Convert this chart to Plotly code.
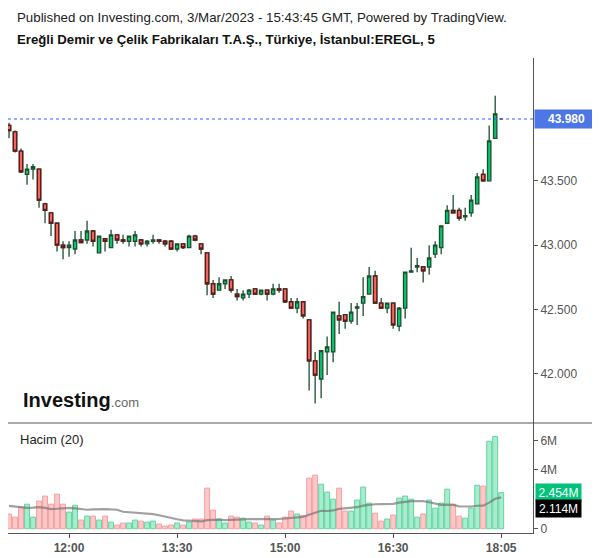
import plotly.graph_objects as go
import pandas as pd

# ---- data (5-minute bars, EREGL) ----
open_ = [43.93, 43.88, 43.73, 43.55, 43.59, 43.59, 43.32, 43.25, 43.17, 43.00,
         42.98, 42.97, 43.04, 43.04, 43.11, 42.94, 43.05, 42.98, 43.08, 43.04,
         43.03, 43.03, 43.04, 43.01, 43.03, 43.04, 43.03, 43.03, 42.97, 43.01,
         42.98, 43.07, 43.01, 42.94, 42.70, 42.65, 42.70, 42.73, 42.62, 42.59,
         42.62, 42.66, 42.62, 42.65, 42.62, 42.66, 42.66, 42.56, 42.51, 42.56,
         42.42, 42.10, 41.96, 42.17, 42.17, 42.45, 42.46, 42.41, 42.51, 42.55,
         42.62, 42.76, 42.55, 42.51, 42.55, 42.37, 42.51, 42.79, 42.83, 42.83,
         42.83, 42.93, 42.98, 43.17, 43.27, 43.27, 43.22, 43.25, 43.32, 43.55,
         43.50, 43.83, 43.98]
high = [43.95, 43.89, 43.75, 43.63, 43.63, 43.59, 43.33, 43.25, 43.17, 43.03,
        43.03, 43.11, 43.11, 43.19, 43.11, 43.07, 43.05, 43.12, 43.08, 43.08,
        43.07, 43.11, 43.04, 43.04, 43.08, 43.04, 43.04, 43.04, 43.01, 43.01,
        43.08, 43.08, 43.01, 42.94, 42.73, 42.75, 42.73, 42.76, 42.66, 42.65,
        42.66, 42.66, 42.65, 42.65, 42.70, 42.70, 42.66, 42.59, 42.59, 42.56,
        42.42, 42.17, 42.18, 42.29, 42.48, 42.56, 42.46, 42.55, 42.55, 42.75,
        42.83, 42.80, 42.59, 42.55, 42.55, 42.52, 42.79, 42.98, 42.90, 42.83,
        43.00, 43.03, 43.15, 43.31, 43.39, 43.29, 43.29, 43.39, 43.56, 43.59,
        43.93, 44.16, 43.98]
low = [43.83, 43.72, 43.56, 43.47, 43.51, 43.29, 43.17, 43.07, 42.95, 42.89,
       42.91, 42.93, 43.02, 43.01, 42.99, 42.94, 42.95, 42.98, 43.01, 43.01,
       42.99, 42.99, 42.99, 42.99, 43.01, 43.01, 42.99, 42.97, 42.95, 42.97,
       42.98, 43.03, 42.93, 42.61, 42.59, 42.65, 42.66, 42.63, 42.57, 42.57,
       42.59, 42.62, 42.61, 42.57, 42.61, 42.63, 42.55, 42.51, 42.47, 42.43,
       41.87, 41.77, 41.81, 41.99, 42.09, 42.31, 42.35, 42.39, 42.38, 42.45,
       42.62, 42.55, 42.51, 42.47, 42.35, 42.33, 42.43, 42.79, 42.79, 42.71,
       42.77, 42.90, 42.93, 43.17, 43.25, 43.19, 43.19, 43.22, 43.32, 43.50,
       43.50, 43.83, 43.98]
close = [43.89, 43.73, 43.57, 43.59, 43.61, 43.35, 43.27, 43.17, 43.00, 42.98,
         43.00, 43.04, 43.02, 43.11, 43.03, 43.07, 43.03, 43.08, 43.04, 43.03,
         43.07, 43.08, 43.01, 43.03, 43.04, 43.03, 43.01, 42.97, 43.01, 42.98,
         43.07, 43.04, 42.97, 42.70, 42.62, 42.70, 42.73, 42.65, 42.60, 42.62,
         42.65, 42.62, 42.65, 42.62, 42.66, 42.65, 42.56, 42.51, 42.56, 42.45,
         42.10, 41.99, 42.18, 42.21, 42.48, 42.42, 42.41, 42.48, 42.52, 42.60,
         42.76, 42.55, 42.51, 42.55, 42.38, 42.51, 42.79, 42.80, 42.84, 42.80,
         42.90, 43.00, 43.15, 43.27, 43.25, 43.21, 43.23, 43.35, 43.53, 43.50,
         43.81, 44.02, 43.98]
volume_m = [1.00, 0.79, 1.47, 1.67, 0.79, 1.88, 2.22, 1.67, 2.35, 1.67,
            1.13, 1.60, 0.59, 0.86, 0.86, 0.59, 0.86, 0.45, 0.25, 0.39,
            0.39, 0.59, 0.52, 0.45, 0.52, 0.32, 0.18, 0.25, 0.39, 0.25,
            0.45, 0.66, 0.66, 2.76, 1.27, 0.66, 0.39, 0.86, 0.79, 0.72,
            0.45, 0.39, 0.25, 0.86, 0.59, 0.39, 0.79, 1.20, 1.00, 0.90,
            3.44, 3.64, 3.03, 2.49, 2.01, 2.76, 1.20, 1.20, 1.95, 2.83,
            1.74, 1.06, 0.52, 0.66, 0.93, 2.08, 2.22, 2.01, 0.79, 1.00,
            1.95, 1.40, 1.74, 2.69, 1.67, 0.86, 0.72, 1.40, 2.96, 2.90,
            5.95, 6.28, 2.454]
# 20-bar volume average for the first bars (its window starts before the visible range)
ma_head_m = [1.56, 1.52, 1.47, 1.42, 1.44, 1.47, 1.42, 1.34, 1.36, 1.40,
             1.42, 1.38, 1.33, 1.29, 1.31, 1.34, 1.34, 1.31, 1.29]
tick_idx = [10, 28, 46, 64, 82]
tick_text = ["12:00", "13:30", "15:00", "16:30", "18:05"]
last_price = 43.98
vol_label = "2.454M"
ma_label = "2.114M"

n = len(close)
xs = list(range(n))
volume = [v * 1e6 for v in volume_m]
ma_tail = pd.Series(volume).rolling(20).mean().tolist()[len(ma_head_m):]
ma = [v * 1e6 for v in ma_head_m] + ma_tail

up = [c >= o for o, c in zip(open_, close)]
red_idx = [i for i in xs if not up[i]]

GREEN = "#08c46d"
RED = "#f6645c"
DKGREEN = "#1b4f30"
DKRED = "#5c1a1a"
FONT = "Liberation Sans, Arial, sans-serif"

fig = go.Figure()

# full candles (wicks + outlines in dark green)
fig.add_trace(go.Candlestick(
    x=xs, open=open_, high=high, low=low, close=close,
    increasing=dict(fillcolor=GREEN, line=dict(color=DKGREEN, width=1.3)),
    decreasing=dict(fillcolor=RED, line=dict(color=DKGREEN, width=1.3)),
    whiskerwidth=0, hoverinfo="skip", showlegend=False,
    xaxis="x", yaxis="y"))
# red bodies redrawn with dark red outline
fig.add_trace(go.Candlestick(
    x=[xs[i] for i in red_idx],
    open=[open_[i] for i in red_idx],
    high=[open_[i] for i in red_idx],
    low=[close[i] for i in red_idx],
    close=[close[i] for i in red_idx],
    increasing=dict(fillcolor=RED, line=dict(color=DKRED, width=1.3)),
    decreasing=dict(fillcolor=RED, line=dict(color=DKRED, width=1.3)),
    whiskerwidth=0, hoverinfo="skip", showlegend=False,
    xaxis="x", yaxis="y"))

# volume
fig.add_trace(go.Bar(
    x=xs, y=volume, width=0.82,
    marker=dict(color=["#a8ebce" if u else "#fcc8c8" for u in up],
                line=dict(color=["#62d69f" if u else "#f4a1a1" for u in up], width=1)),
    hoverinfo="skip", showlegend=False, xaxis="x2", yaxis="y2"))
fig.add_trace(go.Scatter(
    x=xs, y=ma, mode="lines", line=dict(color="rgba(110,110,110,0.65)", width=2.2),
    hoverinfo="skip", showlegend=False, xaxis="x2", yaxis="y2"))

split = 110 / 475
xr = [-0.17, 87.3]

fig.update_layout(
    width=592, height=550,
    margin=dict(l=0, r=67, t=50, b=25),
    paper_bgcolor="white", plot_bgcolor="white",
    font=dict(family=FONT, color="#555", size=12),
    boxgap=0.2,
    xaxis=dict(domain=[0, 1], range=xr, anchor="y", showticklabels=False,
               showgrid=False, zeroline=False, rangeslider=dict(visible=False),
               matches="x2"),
    yaxis=dict(domain=[split, 1], range=[41.618, 44.454], side="right", anchor="x",
               showgrid=False, zeroline=False, showline=True, linecolor="#555", linewidth=1,
               ticks="outside", ticklen=4, tickcolor="#555",
               tickvals=[42.0, 42.5, 43.0, 43.5], ticktext=["42.000", "42.500", "43.000", "43.500"],
               tickfont=dict(size=12, color="#555")),
    xaxis2=dict(domain=[0, 1], range=xr, anchor="y2", showgrid=False, zeroline=False,
                showline=True, linecolor="#555", linewidth=1,
                ticks="outside", ticklen=4, tickcolor="#555",
                tickvals=tick_idx, ticktext=[f"<b>{t}</b>" for t in tick_text],
                tickfont=dict(size=12, color="#555")),
    yaxis2=dict(domain=[0, split], range=[-0.29e6, 7.19e6], side="right", anchor="x2",
                showgrid=False, zeroline=False, showline=True, linecolor="#555", linewidth=1,
                ticks="outside", ticklen=4, tickcolor="#555",
                tickvals=[0, 4e6, 6e6], ticktext=["0", "4M", "6M"],
                tickfont=dict(size=12, color="#555")),
    shapes=[
        dict(type="line", xref="paper", yref="y", x0=0, x1=1, y0=last_price, y1=last_price,
             line=dict(color="#2962ff", width=1, dash="dot")),
        dict(type="line", xref="paper", yref="paper", x0=0, x1=1.114, y0=split, y1=split,
             line=dict(color="#555", width=1.2)),
    ],
    annotations=[
        dict(xref="paper", yref="paper", x=0.0133, y=1.0863, xanchor="left", yanchor="middle",
             text="Published on Investing.com, 3/Mar/2023 - 15:43:45 GMT, Powered by TradingView.",
             showarrow=False, font=dict(size=13.3, color="#222", family=FONT)),
        dict(xref="paper", yref="paper", x=0.0133, y=1.0379, xanchor="left", yanchor="middle",
             text="<b>Ereğli Demir ve Çelik Fabrikaları T.A.Ş., Türkiye, İstanbul:EREGL, 5</b>",
             showarrow=False, font=dict(size=13.2, color="#111", family=FONT)),
        dict(xref="paper", yref="paper", x=0.0245, y=0.28, xanchor="left", yanchor="middle",
             text="<b>Investing</b><span style='font-size:13px;color:#666'>.com</span>",
             showarrow=False, font=dict(size=20, color="#111", family=FONT)),
        dict(xref="paper", yref="paper", x=0.019, y=0.1958, xanchor="left", yanchor="middle",
             text="Hacim (20)", showarrow=False, font=dict(size=13, color="#222", family=FONT)),
        dict(xref="paper", yref="y", x=1.002, y=last_price, xanchor="left", yanchor="middle",
             text=f"<b>{last_price:.3f}</b>", showarrow=False, bgcolor="#4d76e6",
             width=59, height=14, borderpad=2, font=dict(size=12, color="white", family=FONT)),
        dict(xref="paper", yref="paper", x=1.004, y=(533 - 492) / 475, xanchor="left", yanchor="middle",
             text=vol_label, showarrow=False, bgcolor="#00c27a",
             width=41, height=13, borderpad=2, font=dict(size=12, color="white", family=FONT)),
        dict(xref="paper", yref="paper", x=1.004, y=(533 - 508) / 475, xanchor="left", yanchor="middle",
             text=ma_label, showarrow=False, bgcolor="#000000",
             width=41, height=13, borderpad=2, font=dict(size=12, color="white", family=FONT)),
    ],
)

fig.write_html("out.html")
